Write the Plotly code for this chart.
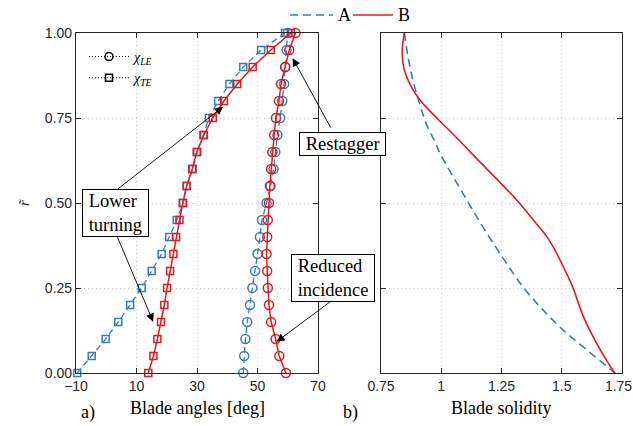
import plotly.graph_objects as go

# ---------------- data ----------------
r_span = [0.00, 0.05, 0.10, 0.15, 0.20, 0.25, 0.30, 0.35, 0.40, 0.45, 0.50,
          0.55, 0.60, 0.65, 0.70, 0.75, 0.80, 0.85, 0.90, 0.95, 1.00]

chi_te_A = [-9.6, -4.8, -0.2, 4.0, 7.9, 11.7, 15.0, 18.3, 20.8, 23.3, 25.4,
            26.6, 28.6, 30.1, 32.1, 33.9, 37.0, 40.7, 45.3, 51.2, 59.1]
chi_te_B = [13.9, 15.6, 16.9, 18.1, 19.2, 20.1, 21.1, 22.2, 23.1, 24.2, 25.3,
            26.6, 28.4, 29.9, 32.3, 35.2, 38.9, 43.3, 48.4, 54.4, 61.0]
chi_le_A = [45.3, 45.6, 46.0, 46.6, 47.5, 48.3, 49.2, 50.0, 50.8, 51.5, 53.0,
            54.3, 55.3, 55.9, 56.6, 57.5, 58.2, 58.8, 59.1, 59.6, 60.0]
chi_le_B = [59.4, 57.2, 56.0, 54.5, 53.8, 53.4, 53.2, 53.0, 53.2, 53.4, 53.8,
            54.1, 54.5, 54.9, 55.5, 56.1, 57.1, 57.8, 59.2, 60.5, 62.6]

r_sol_A = [1.000, 0.926, 0.857, 0.788, 0.729, 0.680, 0.646, 0.509, 0.411,
           0.332, 0.254, 0.185, 0.126, 0.068, 0.000]
sol_A = [0.847, 0.863, 0.884, 0.912, 0.940, 0.974, 0.995, 1.106, 1.189,
         1.262, 1.338, 1.423, 1.506, 1.604, 1.721]

r_sol_B = [1.000, 0.945, 0.896, 0.847, 0.800, 0.744, 0.695, 0.646,
           0.509, 0.450, 0.401, 0.352, 0.303, 0.254, 0.166, 0.068, 0.000]
sol_B = [0.847, 0.838, 0.845, 0.872, 0.915, 0.990, 1.060, 1.126,
         1.313, 1.382, 1.438, 1.479, 1.513, 1.545, 1.590, 1.660, 1.720]

angle_ticks = [-10, 10, 30, 50, 70]
sol_ticks = [0.75, 1.0, 1.25, 1.5, 1.75]
sol_ticktext = ["0.75", "1", "1.25", "1.5", "1.75\u2002"]
r_ticks = [0.0, 0.25, 0.5, 0.75, 1.0]

# ---------------- style ----------------
W, H = 633, 426
BLUE = "#377EB8"
RED = "#E41A1C"
AX = "#262626"
SERIF = "Liberation Serif"
SANS = "Liberation Sans"
DASH = "8px,5px"


def px(x):
    return x / W


def py(y):
    return 1 - y / H


fig = go.Figure()

# left panel: blade angles
for xs, sym, size in [(chi_te_A, "square-open", 7), (chi_le_A, "circle-open", 9)]:
    fig.add_trace(go.Scatter(
        x=xs, y=r_span, mode="lines+markers", showlegend=False,
        line=dict(color=BLUE, width=1.3, dash="6px,4px"),
        marker=dict(symbol=sym, size=size, color=BLUE, line=dict(width=1.5, color=BLUE)),
        cliponaxis=False, xaxis="x", yaxis="y"))
for xs, sym, size in [(chi_te_B, "square-open", 7), (chi_le_B, "circle-open", 9)]:
    fig.add_trace(go.Scatter(
        x=xs, y=r_span, mode="lines+markers", showlegend=False,
        line=dict(color=RED, width=1.5),
        marker=dict(symbol=sym, size=size, color=RED, line=dict(width=1.5, color=RED)),
        cliponaxis=False, xaxis="x", yaxis="y"))

# legend entries for chi_LE / chi_TE
fig.add_trace(go.Scatter(
    x=[None], y=[None], mode="lines+markers", name="<i>χ<sub>LE</sub></i>",
    line=dict(color="black", width=1, dash="1px,2px"),
    marker=dict(symbol="circle-open", size=8, color="black", line=dict(width=1.5)),
    xaxis="x", yaxis="y"))
fig.add_trace(go.Scatter(
    x=[None], y=[None], mode="lines+markers", name="<i>χ<sub>TE</sub></i>",
    line=dict(color="black", width=1, dash="1px,2px"),
    marker=dict(symbol="square-open", size=7, color="black", line=dict(width=1.5)),
    xaxis="x", yaxis="y"))

# right panel: solidity
fig.add_trace(go.Scatter(
    x=sol_A, y=r_sol_A, mode="lines", showlegend=False, line_shape="spline",
    line=dict(color=BLUE, width=1.6, dash=DASH), xaxis="x2", yaxis="y2"))
fig.add_trace(go.Scatter(
    x=sol_B, y=r_sol_B, mode="lines", showlegend=False, line_shape="spline",
    line=dict(color=RED, width=1.6), xaxis="x2", yaxis="y2"))

common = dict(showline=True, linecolor=AX, linewidth=1.2, mirror="ticks",
              ticks="inside", ticklen=5, tickcolor=AX, tickwidth=1,
              showgrid=True, gridcolor="#d0d0d0", griddash="1px,3px", gridwidth=1,
              zeroline=False, automargin=False,
              tickfont=dict(family=SANS, size=14, color=AX))

yd = [py(373), py(33)]
fig.update_layout(
    width=W, height=H, margin=dict(l=0, r=0, t=0, b=0, autoexpand=False),
    paper_bgcolor="white", plot_bgcolor="white",
    xaxis=dict(domain=[px(76), px(318)], range=[-10, 70], tickvals=angle_ticks,
               anchor="y", ticklabeloverflow="allow", **common),
    yaxis=dict(domain=yd, range=[0, 1], tickvals=r_ticks, tickformat=".2f",
               anchor="x", ticklabeloverflow="allow", **common),
    xaxis2=dict(domain=[px(381), px(622)], range=[0.75, 1.75], tickvals=sol_ticks,
                ticktext=sol_ticktext, anchor="y2", ticklabeloverflow="allow", **common),
    yaxis2=dict(domain=yd, range=[0, 1], tickvals=r_ticks, showticklabels=False,
                anchor="x2", **common),
    legend=dict(x=px(84), y=py(41), xanchor="left", yanchor="top",
                bgcolor="rgba(0,0,0,0)", font=dict(family=SERIF, size=14, color="black"),
                tracegroupgap=0, itemwidth=40),
)

# top legend (A / B) drawn manually
fig.add_shape(type="line", xref="paper", yref="paper", x0=px(290), x1=px(333),
              y0=py(15), y1=py(15), line=dict(color=BLUE, width=1.6, dash=DASH))
fig.add_shape(type="line", xref="paper", yref="paper", x0=px(353), x1=px(393),
              y0=py(15), y1=py(15), line=dict(color=RED, width=1.6))

ann = []
ann.append(dict(text="A", x=px(336), y=py(15), xanchor="left", yanchor="middle"))
ann.append(dict(text="B", x=px(396), y=py(15), xanchor="left", yanchor="middle"))
ann.append(dict(text="a)", x=px(88), y=py(412), xanchor="center", yanchor="middle"))
ann.append(dict(text="b)", x=px(350), y=py(412), xanchor="center", yanchor="middle"))
ann.append(dict(text="Blade angles [deg]", x=px(197), y=py(408), xanchor="center", yanchor="middle"))
ann.append(dict(text="Blade solidity", x=px(501), y=py(408), xanchor="center", yanchor="middle"))
for a in ann:
    a.update(xref="paper", yref="paper", showarrow=False,
             font=dict(family=SERIF, size=18, color="black"))
    fig.add_annotation(**a)

# y axis title
fig.add_annotation(text="<i>r̃</i>", x=px(14), y=py(203), xref="paper", yref="paper",
                   showarrow=False, textangle=-90,
                   font=dict(family=SERIF, size=15, color=AX))

# boxed text annotations
boxes = [("&nbsp;Lower&nbsp;<br>&nbsp;turning&nbsp;", 115.5, 212.5),
         ("&nbsp;Restagger&nbsp;", 342, 143.5),
         ("&nbsp;Reduced&nbsp;<br>&nbsp;incidence&nbsp;", 333, 277.5)]
for t, bx, by in boxes:
    fig.add_annotation(text=t, x=px(bx), y=py(by), xref="paper", yref="paper",
                       xanchor="center", yanchor="middle",
                       showarrow=False, align="left", bgcolor="white",
                       bordercolor="black", borderwidth=1, borderpad=1,
                       font=dict(family=SERIF, size=18.5, color="black"))

# arrows (head in data coords, tail offset in pixels)
arrows = [(38.6, 0.783, -106.6, 83.3),
          (15.5, 0.151, -36.6, -86.7),
          (61.6, 0.926, 39.0, 71.0),
          (56.3, 0.092, 56.0, -41.7)]
for hx, hy, axo, ayo in arrows:
    fig.add_annotation(text="", x=hx, y=hy, xref="x", yref="y", ax=axo, ay=ayo,
                       showarrow=True, arrowhead=2, arrowsize=1.8, arrowwidth=0.9,
                       arrowcolor="black", standoff=0, startstandoff=0)

fig.write_html("out.html")
